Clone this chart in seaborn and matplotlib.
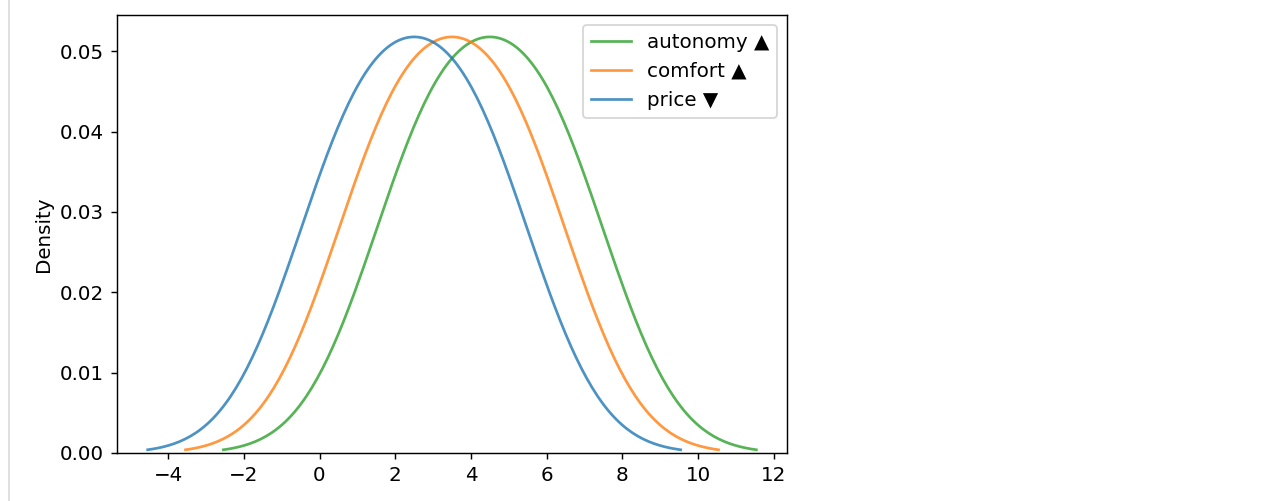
import matplotlib
matplotlib.use("Agg")
import matplotlib.pyplot as plt
import pandas as pd
import seaborn as sns
from matplotlib.lines import Line2D

# decision matrix columns (two alternatives each)
price = [1, 4]
comfort = [2, 5]
autonomy = [3, 6]
labels = ["price ▼", "comfort ▲", "autonomy ▲"]

df = pd.DataFrame({labels[0]: price, labels[1]: comfort, labels[2]: autonomy})

plt.rcParams["font.family"] = ["DejaVu Sans"]
plt.rcParams["font.size"] = 11

DPI = 130
fig = plt.figure(figsize=(1275 / DPI, 501 / DPI), dpi=DPI)
ax = fig.add_axes([117 / 1275, 48 / 501, 670 / 1275, 438 / 501])

sns.kdeplot(data=df, ax=ax, alpha=0.8)

ax.set_ylabel("Density")
ax.set_xticks(range(-4, 13, 2))
ax.set_ylim(0, 0.0545)
ax.set_xlim(-5.35, 12.35)
ax.set_yticks([0, 0.01, 0.02, 0.03, 0.04, 0.05])

# legend listed last criterion first, as in the original
leg = ax.get_legend()
handles = list(leg.legend_handles)
texts = [t.get_text() for t in leg.get_texts()]
leg.remove()
ax.legend(handles[::-1], texts[::-1], loc="upper right")

fig.add_artist(Line2D([9 / 1275, 9 / 1275], [0, 1], color="#dddddd", lw=1))

fig.savefig("out.png", dpi=DPI)
